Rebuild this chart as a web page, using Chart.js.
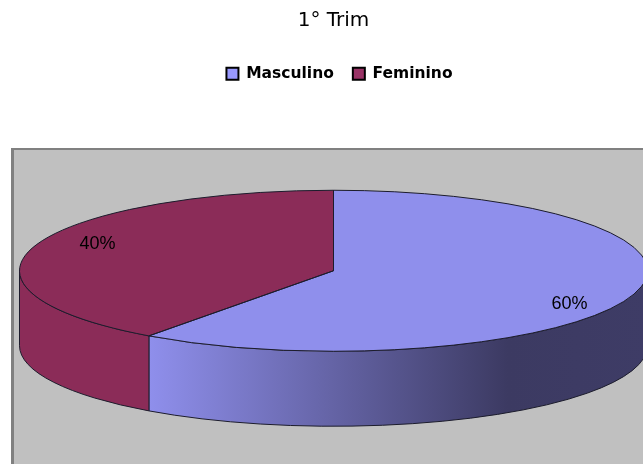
<!DOCTYPE html>
<html>
<head>
<meta charset="utf-8">
<script src="https://cdn.jsdelivr.net/npm/chart.js@4/dist/chart.umd.min.js"></script>
<style>
html, body { margin: 0; padding: 0; background: #fff; overflow: hidden; }
#wrap { width: 643px; height: 464px; }
</style>
</head>
<body>
<div id="wrap"><canvas id="myChart"></canvas></div>
<script>
const categorias = ['Masculino', 'Feminino'];
const valores = [60, 40];
const colores = ['#8f8fec', '#8b2c58'];
const coloresLeyenda = ['#9999ff', '#993366'];
const titulo = '1° Trim';

// tamaño del disco en pantalla (la torta sale circular y se aplasta)
const RX = 314, RY = 80.5, ALTO = 75;

function geometria(chart) {
    const arcs = chart.getDatasetMeta(0).data;
    return { arcs, cx: arcs[0].x, cy: arcs[0].y, r: arcs[0].outerRadius };
}

function paredFrontal(ctx, cx, cy, a, b) {
    ctx.beginPath();
    ctx.ellipse(cx, cy, RX, RY, 0, a, b);
    ctx.ellipse(cx, cy + ALTO, RX, RY, 0, b, a, true);
    ctx.closePath();
}

const torta3d = {
    id: 'torta3d',
    afterLayout(chart) {
        // la leyenda del original no está centrada con el título
        chart.legend.left += 6;
        chart.legend.right += 6;
    },
    beforeDraw(chart) {
        const ctx = chart.ctx;
        ctx.save();
        ctx.fillStyle = '#c0c0c0';
        ctx.fillRect(12, 149, chart.width, chart.height);
        ctx.fillStyle = '#808080';
        ctx.fillRect(11, 148, 3, chart.height);
        ctx.fillRect(11, 148, chart.width, 2);
        ctx.restore();
    },
    beforeDatasetsDraw(chart) {
        const ctx = chart.ctx;
        const { arcs, cx, cy, r } = geometria(chart);
        ctx.save();
        arcs.forEach((arc, i) => {
            const a = Math.max(arc.startAngle, 0);
            const b = Math.min(arc.endAngle, Math.PI);
            if (a >= b) return;
            let fill = colores[i];
            if (i === 0) {
                const x0 = cx + RX * Math.cos(b);
                const g = ctx.createLinearGradient(x0, 0, cx + RX, 0);
                g.addColorStop(0, '#8f8fec');
                g.addColorStop(0.72, '#3c3a62');
                g.addColorStop(1, '#3e3c66');
                fill = g;
            }
            paredFrontal(ctx, cx, cy, a, b);
            ctx.fillStyle = fill;
            ctx.fill();
            ctx.strokeStyle = '#1c1c2c';
            ctx.lineWidth = 1;
            ctx.stroke();
        });
        ctx.restore();
        // aplastar la torta de Chart.js
        ctx.save();
        ctx.translate(cx, cy);
        ctx.scale(RX / r, RY / r);
        ctx.translate(-cx, -cy);
    },
    afterDatasetsDraw(chart) {
        const ctx = chart.ctx;
        ctx.restore();
        const { arcs, cx, cy } = geometria(chart);
        ctx.save();
        // contorno de cada porción
        ctx.strokeStyle = '#1c1c2c';
        ctx.lineWidth = 1;
        arcs.forEach((arc) => {
            ctx.beginPath();
            ctx.moveTo(cx, cy);
            ctx.ellipse(cx, cy, RX, RY, 0, arc.startAngle, arc.endAngle);
            ctx.closePath();
            ctx.stroke();
        });
        // porcentajes
        ctx.fillStyle = '#000';
        ctx.font = '18px "Liberation Sans"';
        ctx.textAlign = 'center';
        ctx.textBaseline = 'middle';
        arcs.forEach((arc, i) => {
            const m = (arc.startAngle + arc.endAngle) / 2;
            const x = cx + RX * 0.79 * Math.cos(m);
            const y = cy + RY * 1.2 * Math.sin(m) + 3;
            ctx.fillText(valores[i] + '%', x, y);
        });
        ctx.restore();
    }
};

new Chart(document.getElementById('myChart').getContext('2d'), {
    type: 'pie',
    data: {
        labels: categorias,
        datasets: [{
            data: valores,
            backgroundColor: colores,
            borderWidth: 0
        }]
    },
    options: {
        responsive: true,
        maintainAspectRatio: false,
        animation: false,
        layout: { padding: { left: 24, top: 8, bottom: 14, right: 0 } },
        plugins: {
            title: {
                display: true,
                text: titulo,
                color: '#000',
                font: { family: '"DejaVu Sans"', size: 20, weight: 'normal' },
                padding: { top: 1, bottom: 14 }
            },
            legend: {
                position: 'top',
                labels: {
                    color: '#000',
                    boxWidth: 12,
                    boxHeight: 12,
                    padding: 19,
                    font: { family: '"DejaVu Sans"', size: 15.5, weight: 'bold' },
                    generateLabels(chart) {
                        return Chart.overrides.pie.plugins.legend.labels.generateLabels(chart).map((l, i) => {
                            l.fillStyle = coloresLeyenda[i];
                            l.lineWidth = 2;
                            l.strokeStyle = '#000';
                            return l;
                        });
                    }
                }
            },
            tooltip: { enabled: false }
        }
    },
    plugins: [torta3d]
});
</script>
</body>
</html>
